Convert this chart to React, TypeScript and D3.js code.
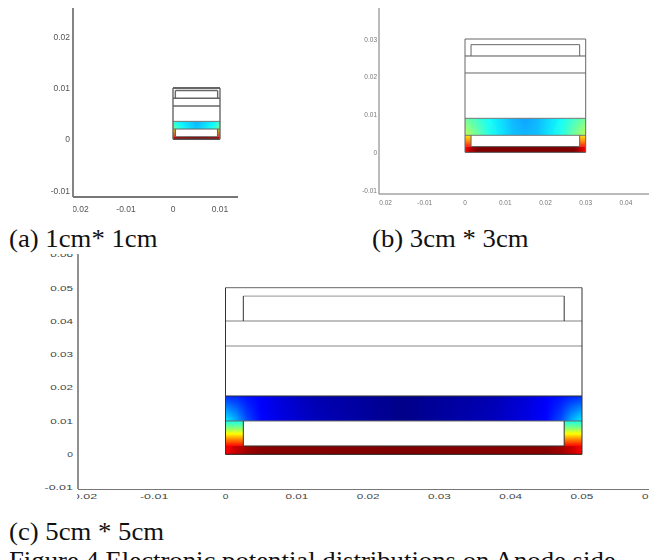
import React from "react";
import * as d3 from "d3";

const width = 649;
const height = 560;

// tick values + labels of the three plots
const xTicksA = [-0.02, -0.01, 0, 0.01];
const yTicksA = [-0.01, 0, 0.01, 0.02];
const xTicksB = [-0.02, -0.01, 0, 0.01, 0.02, 0.03, 0.04];
const yTicksB = [-0.01, 0, 0.01, 0.02, 0.03];
const xTicksC = [-0.02, -0.01, 0, 0.01, 0.02, 0.03, 0.04, 0.05, 0.06];
const yTicksC = [-0.01, 0, 0.01, 0.02, 0.03, 0.04, 0.05, 0.06];

// layer boundaries of the cell, bottom to top
const layersA = [0, 0.0005, 0.002, 0.0035, 0.0065, 0.008, 0.0095, 0.01];
const layersB = [0, 0.0015, 0.0045, 0.009, 0.021, 0.0255, 0.0285, 0.03];
const layersC = [0, 0.0025, 0.01, 0.0175, 0.0325, 0.04, 0.0475, 0.05];

// potential as 0..1 on the jet ramp. stops = fraction of the width, mirrored at 0.5
const bandStopsA = [0, 0.15, 0.5];
const bandRowsA = [
  [0.42, 0.36, 0.3],
  [0.5, 0.4, 0.32],
];
const legRowsA = [0.65, 0.75, 0.85];
const stripStopsA = [0, 0.06, 0.5];
const stripRowA = [0.88, 0.97, 1];

const bandStopsB = [0, 0.1, 0.2, 0.3, 0.4, 0.5];
const bandRowsB = [
  [0.48, 0.43, 0.38, 0.34, 0.3, 0.28],
  [0.56, 0.48, 0.4, 0.35, 0.31, 0.3],
];
const legRowsB = [0.66, 0.75, 0.87];
const stripStopsB = [0, 0.05, 0.1, 0.5];
const stripRowB = [0.87, 0.95, 1, 1];

const bandStopsC = [0, 0.03, 0.06, 0.1, 0.15, 0.25, 0.5];
const bandRowsC = [
  [0.17, 0.16, 0.14, 0.12, 0.09, 0.05, 0.01],
  [0.37, 0.3, 0.2, 0.13, 0.1, 0.06, 0.01],
];
const legRowsC = [0.4, 0.5, 0.63, 0.76, 0.88];
const stripStopsC = [0, 0.03, 0.06, 0.1, 0.5];
const stripRowC = [0.88, 0.93, 0.97, 0.99, 1];

const captions = ["(a) 1cm* 1cm", "(b) 3cm * 3cm", "(c) 5cm * 5cm", "Figure 4 Electronic potential distributions on Anode side."];

const jet = d3
  .scaleLinear<string>()
  .domain([0, 0.125, 0.375, 0.625, 0.875, 1])
  .range(["#00007f", "#0000ff", "#00ffff", "#ffff00", "#ff0000", "#7f0000"]);

function Field({ id, x, y, x0, x1, y0, y1, stops, rows, mirror }: any) {
  const left = x(x0);
  const right = x(x1);
  const top = y(y1);
  const bottom = y(y0);
  const allStops = mirror ? [...stops, ...stops.slice(0, -1).reverse().map((s: number) => 1 - s)] : stops;
  const expand = (r: number[]) => (mirror ? [...r, ...r.slice(0, -1).reverse()] : r);
  const lines = d3.range(top, bottom, 1);
  const rowAt = (t: number) => {
    const p = t * (rows.length - 1);
    const i = Math.min(Math.floor(p), rows.length - 2);
    return expand(d3.interpolateArray(rows[i], rows[i + 1])(p - i) as number[]);
  };
  return (
    <g>
      <defs>
        {lines.map((py: number, i: number) => (
          <linearGradient key={i} id={`${id}-${i}`}>
            {rowAt(lines.length > 1 ? (py - top) / (bottom - top) : 0).map((v: number, k: number) => (
              <stop key={k} offset={allStops[k]} stopColor={jet(v)} />
            ))}
          </linearGradient>
        ))}
      </defs>
      {lines.map((py: number, i: number) => (
        <rect
          key={i}
          x={left}
          y={py}
          width={right - left}
          height={Math.min(1.5, bottom - py)}
          fill={`url(#${id}-${i})`}
        />
      ))}
    </g>
  );
}

function Cell({ id, x, y, layers, band, stops, legs, stripStops, strip, inset, stroke }: any) {
  const size = layers[layers.length - 1];
  const legValues = legs.map((v: number) => [v, v]);
  const stripRows = [strip, strip];
  const inner = [inset, size - inset];
  return (
    <g>
      <Field id={`${id}-band`} x={x} y={y} x0={0} x1={size} y0={layers[2]} y1={layers[3]} stops={stops} rows={band} mirror />
      <Field id={`${id}-legl`} x={x} y={y} x0={0} x1={inset} y0={layers[1]} y1={layers[2]} stops={[0, 1]} rows={legValues} />
      <Field id={`${id}-legr`} x={x} y={y} x0={size - inset} x1={size} y0={layers[1]} y1={layers[2]} stops={[0, 1]} rows={legValues} />
      <Field id={`${id}-strip`} x={x} y={y} x0={0} x1={size} y0={0} y1={layers[1]} stops={stripStops} rows={stripRows} mirror />
      {/* horizontal boundaries */}
      {layers.map((l: number, i: number) => {
        const inside = i === 1 || i === 6;
        return (
          <line
            key={i}
            x1={x(inside ? inner[0] : 0)}
            x2={x(inside ? inner[1] : size)}
            y1={y(l)}
            y2={y(l)}
            stroke={stroke.h[i]}
            strokeWidth={stroke.w[i]}
          />
        );
      })}
      {/* outer sides */}
      <line x1={x(0)} x2={x(0)} y1={y(size)} y2={y(0)} stroke={stroke.side} strokeWidth={stroke.sideW} />
      <line x1={x(size)} x2={x(size)} y1={y(size)} y2={y(0)} stroke={stroke.side} strokeWidth={stroke.sideW} />
      {/* inner sides */}
      {inner.map((v: number) => (
        <g key={v}>
          <line x1={x(v)} x2={x(v)} y1={y(layers[1])} y2={y(layers[2])} stroke={stroke.side} strokeWidth={stroke.innerW} />
          <line x1={x(v)} x2={x(v)} y1={y(layers[5])} y2={y(layers[6])} stroke={stroke.side} strokeWidth={stroke.innerW} />
        </g>
      ))}
    </g>
  );
}

// a = blurred screenshot
const xA = d3.scaleLinear().domain([0, 0.01]).range([173, 220]);
const yA = d3.scaleLinear().domain([0, 0.01]).range([139.3, 88]);
const xB = d3.scaleLinear().domain([0, 0.03]).range([465, 585.7]);
const yB = d3.scaleLinear().domain([0, 0.03]).range([152.3, 39]);
const xC = d3.scaleLinear().domain([0, 0.05]).range([225.5, 582]);
const yC = d3.scaleLinear().domain([0, 0.05]).range([454.3, 287.7]);

const fmt = (v: number) => (v === 0 ? "0" : String(v));

export default function App() {
  return (
    <svg width={width} height={height} style={{ position: "absolute", left: 0, top: 0 }} fontFamily="'Liberation Sans', sans-serif">
      <defs>
        <filter id="blurA" x="-5%" y="-5%" width="110%" height="110%">
          <feGaussianBlur stdDeviation="0.7" />
        </filter>
        <filter id="blurB" x="-5%" y="-5%" width="110%" height="110%">
          <feGaussianBlur stdDeviation="0.5" />
        </filter>
        <clipPath id="clipA">
          <rect x={73} y={0} width={200} height={225} />
        </clipPath>
        <clipPath id="clipB">
          <rect x={379} y={0} width={270} height={225} />
        </clipPath>
        <clipPath id="clipC">
          <rect x={77} y={254} width={572} height={260} />
        </clipPath>
        <clipPath id="clipCy">
          <rect x={40} y={254} width={40} height={250} />
        </clipPath>
      </defs>

      {/* (a) */}
      <g filter="url(#blurA)">
        <line x1={73} x2={73} y1={8} y2={197} stroke="#777" strokeWidth={1.8} />
        <line x1={73} x2={238} y1={197} y2={197} stroke="#777" strokeWidth={1.8} />
        {yTicksA.map(t => (
          <text key={t} x={70} y={yA(t) + 3} textAnchor="end" fontSize={8.5} fill="#555">
            {fmt(t)}
          </text>
        ))}
        <g clipPath="url(#clipA)">
          {xTicksA.map(t => (
            <text key={t} x={xA(t)} y={212} textAnchor="middle" fontSize={8.5} fill="#555">
              {fmt(t)}
            </text>
          ))}
        </g>
        <Cell
          id="a"
          x={xA}
          y={yA}
          layers={layersA}
          band={bandRowsA}
          stops={bandStopsA}
          legs={legRowsA}
          stripStops={stripStopsA}
          strip={stripRowA}
          inset={0.0005}
          stroke={{
            h: ["#555", "#666", "#666", "#777", "#666", "#666", "#666", "#666"],
            w: [1.4, 1, 1, 1, 1.5, 1.5, 1.5, 1.8],
            side: "#666",
            sideW: 1.4,
            innerW: 1.4,
          }}
        />
      </g>

      {/* (b) */}
      <g filter="url(#blurB)">
        <line x1={379} x2={379} y1={8} y2={194} stroke="#777" strokeWidth={1} />
        <line x1={379} x2={649} y1={194} y2={194} stroke="#777" strokeWidth={1} />
        {yTicksB.map(t => (
          <text key={t} x={377} y={yB(t) + 2.5} textAnchor="end" fontSize={6.5} fill="#777">
            {fmt(t)}
          </text>
        ))}
        <g clipPath="url(#clipB)">
          {xTicksB.map(t => (
            <text key={t} x={xB(t)} y={205} textAnchor="middle" fontSize={6.5} fill="#777">
              {fmt(t)}
            </text>
          ))}
        </g>
        <Cell
          id="b"
          x={xB}
          y={yB}
          layers={layersB}
          band={bandRowsB}
          stops={bandStopsB}
          legs={legRowsB}
          stripStops={stripStopsB}
          strip={stripRowB}
          inset={0.0015}
          stroke={{
            h: ["#555", "#555", "#777", "#777", "#666", "#555", "#666", "#666"],
            w: [1, 1, 1, 1, 1, 1, 1, 1],
            side: "#666",
            sideW: 1,
            innerW: 1,
          }}
        />
      </g>

      {/* (c) */}
      <line x1={78} x2={78} y1={254} y2={489} stroke="#222" strokeWidth={1} />
      <line x1={78} x2={649} y1={489.5} y2={489.5} stroke="#777" strokeWidth={1} />
      <g clipPath="url(#clipCy)">
        {yTicksC.map(t => (
          <text
            key={t}
            x={73}
            y={yC(t) + 2.8}
            textAnchor="end"
            fontSize={7.5}
            fill="#444"
            textLength={5.7 * fmt(t).length}
            lengthAdjust="spacingAndGlyphs"
          >
            {fmt(t)}
          </text>
        ))}
      </g>
      <g clipPath="url(#clipC)">
        {xTicksC.map(t => (
          <text
            key={t}
            x={xC(t)}
            y={499}
            textAnchor="middle"
            fontSize={7.5}
            fill="#444"
            textLength={5.7 * fmt(t).length}
            lengthAdjust="spacingAndGlyphs"
          >
            {fmt(t)}
          </text>
        ))}
      </g>
      <Cell
        id="c"
        x={xC}
        y={yC}
        layers={layersC}
        band={bandRowsC}
        stops={bandStopsC}
        legs={legRowsC}
        stripStops={stripStopsC}
        strip={stripRowC}
        inset={0.0025}
        stroke={{
          h: ["#222", "#333", "#666", "#333", "#888", "#aaa", "#aaa", "#666"],
          w: [1, 1, 1, 1, 1, 1.3, 1.3, 1],
          side: "#333",
          sideW: 1,
          innerW: 1,
        }}
      />

      {/* captions, stretched a little like the scanned page */}
      <g fontFamily="'Liberation Serif', serif" fontSize={25} fill="#111">
        <text transform="translate(9,247) scale(1.07,1)">{captions[0]}</text>
        <text transform="translate(372,247) scale(1.07,1)">{captions[1]}</text>
        <text transform="translate(9,540) scale(1.07,1)">{captions[2]}</text>
        <text transform="translate(9,569) scale(1.07,1)">{captions[3]}</text>
      </g>
    </svg>
  );
}
